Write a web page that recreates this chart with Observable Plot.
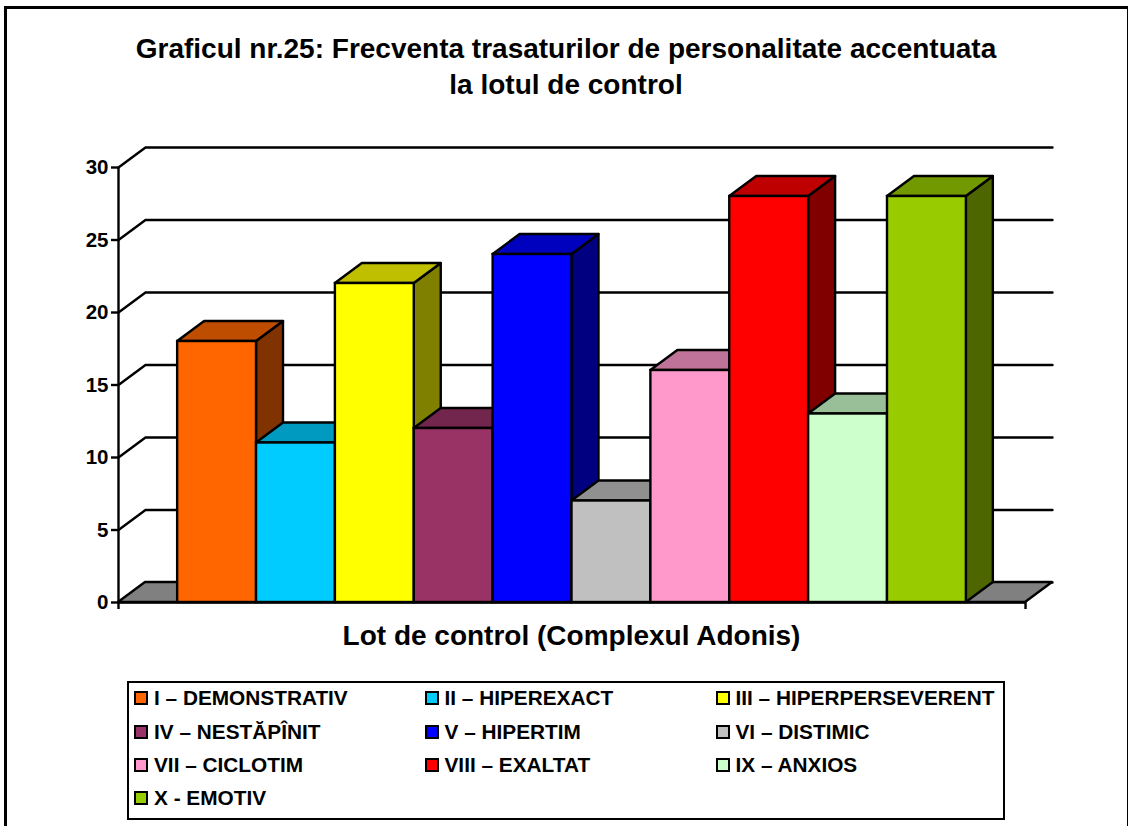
<!DOCTYPE html>
<html>
<head>
<meta charset="utf-8">
<script src="https://cdn.jsdelivr.net/npm/d3@7"></script>
<script src="https://cdn.jsdelivr.net/npm/@observablehq/plot@0.6"></script>
<style>
  html, body { margin: 0; padding: 0; background: #fff; width: 1128px; height: 826px; overflow: hidden; }
  body { position: relative; font-family: "Liberation Sans", Arial, sans-serif; color: #000; font-weight: bold; }
  #frame { position: absolute; left: 4px; top: 6px; width: 1120px; height: 840px; border: 3px solid #000; box-sizing: content-box; }
  #title { position: absolute; left: 0; width: 1132px; top: 30.5px; text-align: center; font-size: 28px; line-height: 36px; }
  #chart { position: absolute; left: 0; top: 110px; }
  #chart svg { display: block; background: transparent; }
  #legend { position: absolute; left: 127px; top: 681px; width: 878px; height: 139px; border: 2.5px solid #000; box-sizing: border-box; }
  .item { position: absolute; font-size: 20.8px; line-height: 24px; white-space: nowrap; }
  .swatch { position: absolute; width: 10px; height: 10px; border: 2px solid #000; left: -20px; top: 5px; }
</style>
</head>
<body>
<div id="frame"></div>
<div id="title">Graficul nr.25: Frecventa trasaturilor de personalitate accentuata<br>la lotul de control</div>
<div id="chart"></div>
<div id="legend"></div>
<script>
const categories = ["I – DEMONSTRATIV", "II – HIPEREXACT", "III – HIPERPERSEVERENT", "IV – NESTĂPÎNIT", "V – HIPERTIM", "VI – DISTIMIC", "VII – CICLOTIM", "VIII – EXALTAT", "IX – ANXIOS", "X - EMOTIV"];
const values = [18, 11, 22, 12, 24, 7, 16, 28, 13, 28];
const colors = ["#FF6600", "#00CCFF", "#FFFF00", "#993366", "#0000FF", "#C0C0C0", "#FF99CC", "#FF0000", "#CCFFCC", "#99CC00"];
const yTicks = [0, 5, 10, 15, 20, 25, 30];
const axisTitle = "Lot de control (Complexul Adonis)";

// Category-axis layout in bar-width units, and the oblique depth in data units
const gap = 0.75;
const xEnd = gap * 2 + categories.length;
const depthX = 0.342;
const depthY = 1.38;
const sw = 2.4;

const shade = (hex, k) => {
  const c = d3.rgb(hex);
  return d3.rgb(c.r * k, c.g * k, c.b * k).formatHex();
};

const grid = yTicks.flatMap((v) => [
  {v, x: 0, y: v},
  {v, x: depthX, y: v + depthY},
  {v, x: xEnd + depthX, y: v + depthY}
]);
const floor = [
  {y: 0, x1: 0, x2: xEnd},
  {y: depthY, x1: depthX, x2: xEnd + depthX}
];

const barMarks = values.flatMap((v, i) => {
  const x0 = gap + i, x1 = x0 + 1;
  return [
    Plot.areaY([
      {x: x1, y1: 0, y2: v},
      {x: x1 + depthX, y1: depthY, y2: v + depthY}
    ], {x: "x", y1: "y1", y2: "y2", fill: shade(colors[i], 0.5), stroke: "#000", strokeWidth: sw, strokeLinejoin: "round"}),
    Plot.areaX([
      {y: v, x1: x0, x2: x1},
      {y: v + depthY, x1: x0 + depthX, x2: x1 + depthX}
    ], {y: "y", x1: "x1", x2: "x2", fill: shade(colors[i], 0.75), stroke: "#000", strokeWidth: sw, strokeLinejoin: "round"}),
    Plot.rect([{x0, x1, v}], {x1: "x0", x2: "x1", y1: 0, y2: "v", fill: colors[i], stroke: "#000", strokeWidth: sw})
  ];
});

const chart = Plot.plot({
  width: 1128,
  height: 550,
  marginLeft: 118,
  marginRight: 76,
  marginTop: 37,
  marginBottom: 58,
  style: {fontFamily: "'Liberation Sans', Arial, sans-serif", fontWeight: "bold", fontSize: "20.5px", color: "#000", background: "transparent", overflow: "visible"},
  x: {domain: [0, xEnd + depthX], axis: null},
  y: {domain: [0, 30 + depthY], axis: null},
  marks: [
    Plot.line(grid, {x: "x", y: "y", z: "v", stroke: "#000", strokeWidth: sw}),
    Plot.areaX(floor, {y: "y", x1: "x1", x2: "x2", fill: "#808080", stroke: "#000", strokeWidth: sw, strokeLinejoin: "round"}),
    ...barMarks,
    Plot.ruleX([0], {y1: 0, y2: 30, stroke: "#000", strokeWidth: sw}),
    Plot.ruleY([0], {x1: 0, x2: xEnd, stroke: "#000", strokeWidth: 2.6}),
    Plot.axisY({ticks: yTicks, tickSize: 7, tickPadding: 3, tickFormat: (d) => d, label: null, strokeWidth: sw, fontSize: 20.5, fontWeight: "bold", fill: "#000", stroke: "#000"}),
    Plot.axisX({ticks: [0, xEnd], tickSize: 7, tickFormat: () => "", label: null, strokeWidth: sw, stroke: "#000", anchor: "bottom"}),
    Plot.text([axisTitle], {frameAnchor: "bottom", dy: 42, dx: -14, fontSize: 28, fontWeight: "bold", fill: "#000"})
  ]
});
document.getElementById("chart").appendChild(chart);

const legendColumns = [25, 315.5, 606.5];
const legendRows = [3, 36.5, 70, 103];
const legend = document.getElementById("legend");
categories.forEach((name, i) => {
  const el = document.createElement("div");
  el.className = "item";
  el.style.left = legendColumns[i % 3] + "px";
  el.style.top = legendRows[Math.floor(i / 3)] + "px";
  el.textContent = name;
  const s = document.createElement("span");
  s.className = "swatch";
  s.style.background = colors[i];
  el.appendChild(s);
  legend.appendChild(el);
});
</script>
</body>
</html>
